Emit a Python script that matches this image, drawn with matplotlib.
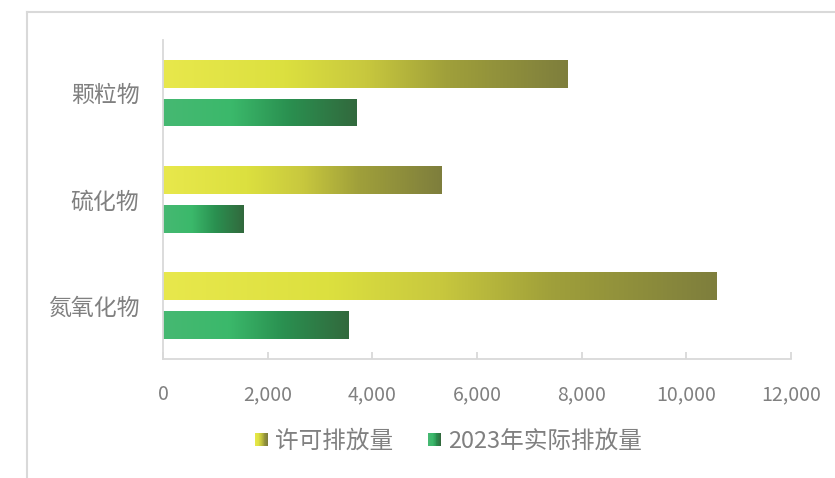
import numpy as np
import matplotlib
matplotlib.use('Agg')
import matplotlib.pyplot as plt
from matplotlib.colors import LinearSegmentedColormap
from matplotlib.patches import Rectangle
from matplotlib.lines import Line2D
from matplotlib.legend_handler import HandlerBase

plt.rcParams['font.family'] = ['Noto Sans CJK SC', 'DejaVu Sans']

categories = ['颗粒物', '硫化物', '氮氧化物']
permit = [7720, 5330, 10570]
actual_2023 = [3700, 1530, 3550]
series_names = ['许可排放量', '2023年实际排放量']
x_ticks = [0, 2000, 4000, 6000, 8000, 10000, 12000]

text_color = '#808080'
line_color = '#D9D9D9'

yellow_cmap = LinearSegmentedColormap.from_list('yel', [
    (0.0, '#E8E84C'), (0.3, '#DCE03F'), (0.5, '#C8C83E'),
    (0.7, '#A0A03A'), (1.0, '#7E7E3D')])
green_cmap = LinearSegmentedColormap.from_list('grn', [
    (0.0, '#46B872'), (0.35, '#3BB96B'), (0.65, '#2A9050'),
    (1.0, '#32693D')])


def fill_gradient(ax, bars, cmap):
    grad = np.linspace(0, 1, 256).reshape(1, -1)
    for b in bars:
        x0, y0 = b.get_x(), b.get_y()
        w, h = b.get_width(), b.get_height()
        im = ax.imshow(grad, cmap=cmap, aspect='auto',
                       extent=(x0, x0 + w, y0 + h, y0), zorder=2)
        im.set_clip_path(b)
        b.set_facecolor('none')
        b.set_edgecolor('none')


class GradHandler(HandlerBase):
    def __init__(self, cmap):
        super().__init__()
        self.cmap = cmap

    def create_artists(self, legend, orig_handle, xdescent, ydescent,
                       width, height, fontsize, trans):
        side = 9.5
        x0 = -xdescent + width - side
        y0 = -ydescent + (height - side) / 2
        n = 16
        arts = []
        for i in range(n):
            r = Rectangle((x0 + side * i / n, y0), side / n + 0.05, side,
                          facecolor=self.cmap(i / (n - 1)), edgecolor='none',
                          transform=trans)
            arts.append(r)
        return arts


fig = plt.figure(figsize=(8.35, 4.78), dpi=100)
ax = fig.add_axes([0.1952, 0.249, 0.7521, 0.6674])

y = np.arange(len(categories))
bh = 0.263
off = 0.182
bars_p = ax.barh(y - off, permit, height=bh, label=series_names[0])
bars_a = ax.barh(y + off, actual_2023, height=bh, label=series_names[1])
fill_gradient(ax, bars_p, yellow_cmap)
fill_gradient(ax, bars_a, green_cmap)

ax.set_xlim(0, 12000)
ax.set_ylim(2.5, -0.5)
ax.set_xticks(x_ticks)
ax.set_xticklabels([format(v, ',') for v in x_ticks])
ax.set_yticks(y)
ax.set_yticklabels(categories)

for s in ['top', 'right']:
    ax.spines[s].set_visible(False)
for s in ['left', 'bottom']:
    ax.spines[s].set_color(line_color)
    ax.spines[s].set_linewidth(1.3)

ax.tick_params(axis='x', direction='in', length=5, width=1.3, color=line_color,
               labelcolor=text_color, labelsize=14, pad=18)
ax.tick_params(axis='y', length=0, labelcolor=text_color, labelsize=16.5, pad=17)

fig.legend([bars_p, bars_a], series_names, loc='center',
           bbox_to_anchor=(0.535, 0.077), ncol=2, frameon=False,
           fontsize=17, labelcolor=text_color, handlelength=0.7,
           handletextpad=0.3, columnspacing=1.35,
           handler_map={bars_p: GradHandler(yellow_cmap),
                        bars_a: GradHandler(green_cmap)})

# outer frame of the chart box
fig.add_artist(Line2D([27 / 835, 1.0], [1 - 12 / 478, 1 - 12 / 478],
                      color=line_color, linewidth=1.5, transform=fig.transFigure))
fig.add_artist(Line2D([27 / 835, 27 / 835], [0.0, 1 - 12 / 478],
                      color=line_color, linewidth=1.5, transform=fig.transFigure))

fig.savefig('out.png', dpi=100)
